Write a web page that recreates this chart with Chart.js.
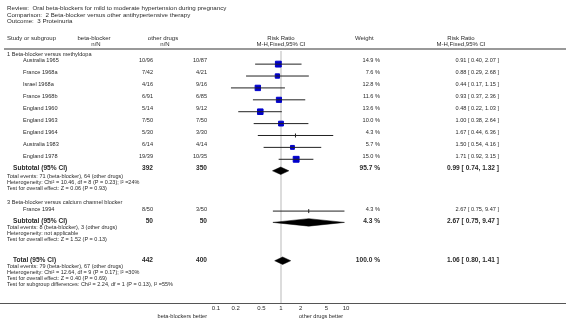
<!DOCTYPE html>
<html>
<head>
<meta charset="utf-8">
<script src="https://cdn.jsdelivr.net/npm/chart.js@4.4.1/dist/chart.umd.min.js"></script>
<style>
  html, body { margin: 0; padding: 0; background: #fff; }
  #forest { display: block; }
</style>
</head>
<body>
<canvas id="forest" width="566" height="320"></canvas>
<script>
/* global Chart */
// header text
const titleLines = [
  'Review:  Oral beta-blockers for mild to moderate hypertension during pregnancy',
  'Comparison:  2 Beta-blocker versus other antihypertensive therapy',
  'Outcome:  3 Proteinuria',
];

// studies
const studies = ['Australia 1965', 'France 1968a', 'Israel 1968a', 'France 1968b', 'England 1960',
  'England 1963', 'England 1964', 'Australia 1983', 'England 1978', 'France 1994'];
const bbEvents = [10, 7, 4, 6, 5, 7, 5, 6, 19, 8];
const bbTotal = [96, 42, 16, 91, 14, 50, 30, 14, 39, 50];
const odEvents = [10, 4, 9, 6, 9, 7, 3, 4, 10, 3];
const odTotal = [87, 21, 16, 85, 12, 50, 30, 14, 35, 50];
const weights = [14.9, 7.6, 12.8, 11.6, 13.6, 10.0, 4.3, 5.7, 15.0, 4.3];
const rr = [0.91, 0.88, 0.44, 0.93, 0.48, 1.00, 1.67, 1.50, 1.71, 2.67];
const ciLow = [0.40, 0.29, 0.17, 0.37, 0.22, 0.38, 0.44, 0.54, 0.92, 0.75];
const ciHigh = [2.07, 2.68, 1.15, 2.36, 1.03, 2.64, 6.36, 4.16, 3.15, 9.47];

// subgroup titles
const subgroups = ['1 Beta-blocker versus methyldopa', '3 Beta-blocker versus calcium channel blocker'];

// pooled rows (subtotal, subtotal, total)
const pooledLabels = ['Subtotal (95% CI)', 'Subtotal (95% CI)', 'Total (95% CI)'];
const pooledBB = [392, 50, 442];
const pooledOD = [350, 50, 400];
const pooledWeight = [95.7, 4.3, 100.0];
const pooledRR = [0.99, 2.67, 1.06];
const pooledLow = [0.74, 0.75, 0.80];
const pooledHigh = [1.32, 9.47, 1.41];
const pooledNotes = [
  ['Total events: 71 (beta-blocker), 64 (other drugs)',
   'Heterogeneity: Chi\u00b2 = 10.46, df = 8 (P = 0.23); I\u00b2 =24%',
   'Test for overall effect: Z = 0.06 (P = 0.93)'],
  ['Total events: 8 (beta-blocker), 3 (other drugs)',
   'Heterogeneity: not applicable',
   'Test for overall effect: Z = 1.52 (P = 0.13)'],
  ['Total events: 79 (beta-blocker), 67 (other drugs)',
   'Heterogeneity: Chi\u00b2 = 12.64, df = 9 (P = 0.17); I\u00b2 =30%',
   'Test for overall effect: Z = 0.40 (P = 0.69)',
   'Test for subgroup differences: Chi\u00b2 = 2.24, df = 1 (P = 0.13), I\u00b2 =55%'],
];

const axisTicks = [0.1, 0.2, 0.5, 1, 2, 5, 10];

// layout (pixel rows, y scale is set up so 1 unit = 1 px)
const studyY = [60, 72.1, 84.2, 96.3, 108.4, 120.5, 132.6, 144.7, 156.8, 209.5];
const subgroupY = [54, 202];
const pooledY = [168.5, 221, 260];
const noteY = [[176, 182, 188.5], [227.5, 233.5, 239.5], [266.5, 272.5, 278.5, 284.5]];
const AXIS_Y = 303;
const FONT = '"Liberation Sans", Arial, sans-serif';
const TXT = '#2a2a2a';

const ci = (r, l, h) => `${r.toFixed(2)} [ ${l.toFixed(2)}, ${h.toFixed(2)} ]`;

const tablePlugin = {
  id: 'table',
  beforeDatasetsDraw(chart) {
    const { ctx } = chart;
    const x1 = chart.scales.x.getPixelForValue(1);
    ctx.save();
    ctx.strokeStyle = '#dcdcdc';
    ctx.lineWidth = 2;
    ctx.beginPath();
    ctx.moveTo(x1, 51);
    ctx.lineTo(x1, AXIS_Y);
    ctx.stroke();
    ctx.restore();
  },
  afterDraw(chart) {
    const { ctx } = chart;
    const xc = chart.scales.x.getPixelForValue(1);
    ctx.save();
    ctx.fillStyle = TXT;
    ctx.textBaseline = 'middle';
    const txt = (s, x, y, size, align = 'left', bold = false) => {
      ctx.font = `${bold ? 'bold ' : ''}${size}px ${FONT}`;
      ctx.textAlign = align;
      ctx.fillText(s, x, y);
    };

    titleLines.forEach((s, i) => txt(s, 7, 8.5 + i * 6.3, 6.2));

    // column headers
    txt('Study or subgroup', 7, 38.5, 6);
    txt('beta-blocker', 94, 38.5, 6, 'center');
    txt('n/N', 96, 44, 6, 'center');
    txt('other drugs', 163, 38.5, 6, 'center');
    txt('n/N', 165, 44, 6, 'center');
    txt('Risk Ratio', xc, 38.5, 6, 'center');
    txt('M-H,Fixed,95% CI', xc, 44, 6, 'center');
    txt('Weight', 355, 38.5, 6);
    txt('Risk Ratio', 461, 38.5, 6, 'center');
    txt('M-H,Fixed,95% CI', 461, 44, 6, 'center');

    ctx.strokeStyle = '#999';
    ctx.lineWidth = 2;
    ctx.beginPath();
    ctx.moveTo(4, 49);
    ctx.lineTo(566, 49);
    ctx.stroke();

    subgroups.forEach((s, i) => txt(s, 7, subgroupY[i], 5.6));

    studies.forEach((s, i) => {
      const y = studyY[i];
      txt(s, 23, y, 5.6);
      txt(`${bbEvents[i]}/${bbTotal[i]}`, 153, y, 5.6, 'right');
      txt(`${odEvents[i]}/${odTotal[i]}`, 207, y, 5.6, 'right');
      txt(`${weights[i].toFixed(1)} %`, 380, y, 5.6, 'right');
      txt(ci(rr[i], ciLow[i], ciHigh[i]), 499, y, 5.6, 'right');
    });

    pooledLabels.forEach((s, i) => {
      const y = pooledY[i];
      txt(s, 13, y, 6.6, 'left', true);
      txt(String(pooledBB[i]), 153, y, 6.6, 'right', true);
      txt(String(pooledOD[i]), 207, y, 6.6, 'right', true);
      txt(`${pooledWeight[i].toFixed(1)} %`, 380, y, 6.6, 'right', true);
      txt(ci(pooledRR[i], pooledLow[i], pooledHigh[i]), 499, y, 6.6, 'right', true);
      pooledNotes[i].forEach((n, j) => txt(n, 7, noteY[i][j], 5.5));
    });

    // axis line across the page
    ctx.strokeStyle = '#555';
    ctx.lineWidth = 1;
    ctx.beginPath();
    ctx.moveTo(0, AXIS_Y + 0.5);
    ctx.lineTo(566, AXIS_Y + 0.5);
    ctx.stroke();

    txt('beta-blockers better', 207, 316, 5.6, 'right');
    txt('other drugs better', 299, 316, 5.6, 'left');
    ctx.restore();
  },
};

// datasets
const ciSets = studies.map((s, i) => ({
  type: 'line',
  data: [{ x: ciLow[i], y: studyY[i] }, { x: ciHigh[i], y: studyY[i] }],
  borderColor: '#222',
  borderWidth: 1,
  pointRadius: 0,
  fill: false,
}));

const markSet = {
  type: 'scatter',
  data: studies.map((s, i) => ({ x: rr[i], y: studyY[i] })),
  pointStyle: weights.map(w => (w < 5 ? 'line' : 'rect')),
  rotation: weights.map(w => (w < 5 ? 90 : 0)),
  pointRadius: weights.map(w => (w < 5 ? 2 : 1.9 + w * 0.15)),
  backgroundColor: '#0000cc',
  borderColor: weights.map(w => (w < 5 ? '#222' : '#0000cc')),
  borderWidth: 1,
};

const DH = 3.8;
const diamondSets = pooledRR.map((r, i) => ({
  type: 'line',
  data: [
    { x: pooledLow[i], y: pooledY[i] },
    { x: r, y: pooledY[i] - DH },
    { x: pooledHigh[i], y: pooledY[i] },
    { x: r, y: pooledY[i] + DH },
    { x: pooledLow[i], y: pooledY[i] },
  ],
  borderColor: '#000',
  borderWidth: 0.5,
  backgroundColor: '#000',
  pointRadius: 0,
  fill: 'shape',
  tension: 0,
}));

new Chart(document.getElementById('forest'), {
  type: 'scatter',
  data: { datasets: [...ciSets, ...diamondSets, markSet] },
  plugins: [tablePlugin],
  options: {
    responsive: false,
    animation: false,
    devicePixelRatio: 1,
    layout: { padding: { left: 216, right: 220, top: 0, bottom: 0 } },
    plugins: { legend: { display: false }, tooltip: { enabled: false } },
    scales: {
      x: {
        type: 'logarithmic',
        min: 0.1,
        max: 10,
        afterBuildTicks: scale => { scale.ticks = axisTicks.map(v => ({ value: v })); },
        afterFit: scale => { scale.height = 320 - AXIS_Y; },
        grid: { display: false, drawTicks: false, tickLength: 0 },
        border: { display: false },
        ticks: {
          padding: 2,
          color: TXT,
          font: { family: FONT, size: 6 },
          maxRotation: 0,
          autoSkip: false,
          callback: v => String(v),
        },
      },
      y: {
        type: 'linear',
        display: false,
        reverse: true,
        min: 0,
        max: AXIS_Y,
      },
    },
  },
});
</script>
</body>
</html>
